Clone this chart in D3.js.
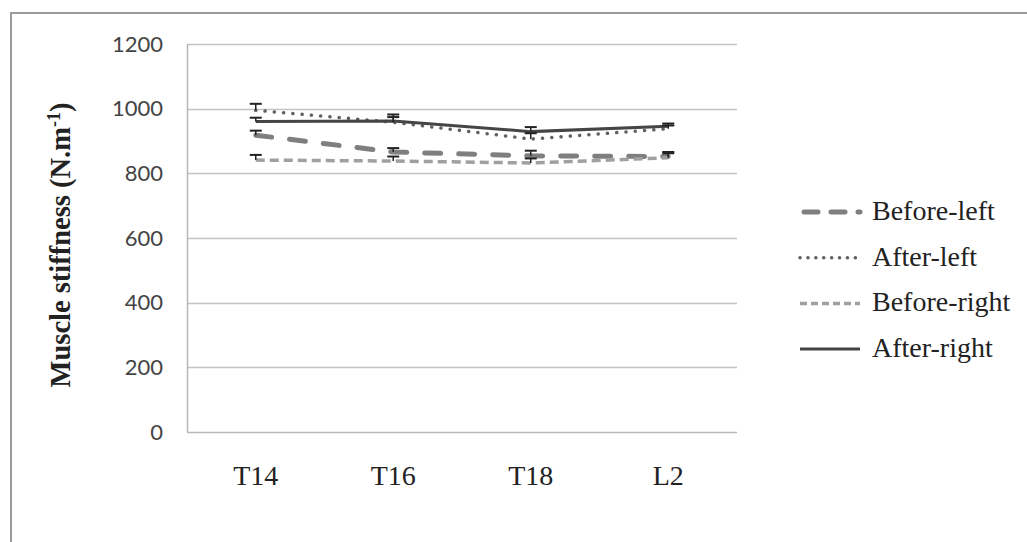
<!DOCTYPE html>
<html>
<head>
<meta charset="utf-8">
<script src="https://cdn.jsdelivr.net/npm/d3@7"></script>
<style>
  body { margin: 0; background: #fff; }
  svg { display: block; }
</style>
</head>
<body>
<div id="chart"></div>
<script>
// data
const categories = ['T14', 'T16', 'T18', 'L2'];
const seriesNames = ['Before-left', 'After-left', 'Before-right', 'After-right'];
const beforeLeft = [918, 866, 854, 852];
const afterLeft = [995, 958, 906, 938];
const beforeRight = [841, 838, 832, 848];
const afterRight = [960, 962, 929, 946];
// upper error bar (SE)
const beforeLeftErr = [14, 12, 16, 10];
const afterLeftErr = [20, 16, 18, 10];
const beforeRightErr = [16, 14, 14, 18];
const afterRightErr = [12, 20, 14, 8];
const yTicks = [0, 200, 400, 600, 800, 1000, 1200];

const width = 1027;
const height = 542;
const margin = { top: 44, left: 187, right: 290, bottom: 110 };
const serif = '"Liberation Serif", "Times New Roman", serif';

const svg = d3.select('#chart').append('svg').attr('width', width).attr('height', height);

// outer chart frame
svg.append('rect')
  .attr('x', 11).attr('y', 13)
  .attr('width', width + 20).attr('height', height + 20)
  .attr('fill', 'none').attr('stroke', '#9a9a9a').attr('stroke-width', 2);

const x = d3.scaleBand().domain(categories).range([margin.left, width - margin.right]);
const y = d3.scaleLinear().domain([0, 1200]).range([height - margin.bottom, margin.top]);

// grid
svg.append('g')
  .selectAll('line')
  .data(yTicks)
  .enter()
  .append('line')
  .attr('x1', margin.left).attr('x2', width - margin.right)
  .attr('y1', (d) => Math.round(y(d)) + 0.5).attr('y2', (d) => Math.round(y(d)) + 0.5)
  .attr('stroke', (d) => (d === 0 ? '#b8b8b8' : '#c4c4c4'))
  .attr('stroke-width', 1.5);

svg.append('line')
  .attr('x1', margin.left + 0.5).attr('x2', margin.left + 0.5)
  .attr('y1', y(1200)).attr('y2', y(0))
  .attr('stroke', '#b8b8b8').attr('stroke-width', 1.5);

// y axis labels
const yAxis = d3.axisLeft(y).tickValues(yTicks).tickFormat(d3.format('d')).tickSize(0).tickPadding(24);
const yg = svg.append('g').attr('transform', `translate(${margin.left},0)`).call(yAxis);
yg.select('.domain').remove();
yg.selectAll('text')
  .attr('font-family', 'Lato, "Open Sans", sans-serif')
  .attr('font-size', 22)
  .attr('fill', '#444');

// x axis labels
const xAxis = d3.axisBottom(x).tickSize(0).tickPadding(33);
const xg = svg.append('g').attr('transform', `translate(0,${y(0)})`).call(xAxis);
xg.select('.domain').remove();
xg.selectAll('text')
  .attr('font-family', serif)
  .attr('font-size', 28)
  .attr('fill', '#222');

// y title
const title = svg.append('text')
  .attr('transform', 'translate(70,245) rotate(-90)')
  .attr('text-anchor', 'middle')
  .attr('font-family', serif)
  .attr('font-weight', 'bold')
  .attr('font-size', 28.5)
  .attr('fill', '#222');
title.append('tspan').text('Muscle stiffness (N.m');
title.append('tspan').attr('dy', -10).attr('font-size', 18).text('-1');
title.append('tspan').attr('dy', 10).text(')');

const series = [
  { name: seriesNames[0], values: beforeLeft, err: beforeLeftErr, color: '#7f7f7f', width: 5, dash: '16,18', cap: 'round' },
  { name: seriesNames[1], values: afterLeft, err: afterLeftErr, color: '#606060', width: 3.5, dash: '0.1,9.2', cap: 'round' },
  { name: seriesNames[2], values: beforeRight, err: beforeRightErr, color: '#a0a0a0', width: 3.5, dash: '9,5', cap: 'butt' },
  { name: seriesNames[3], values: afterRight, err: afterRightErr, color: '#454545', width: 3, dash: null, cap: 'butt' },
];

const cx = (c) => x(c) + x.bandwidth() / 2;
const line = d3.line().x((d) => cx(d.cat)).y((d) => y(d.v));

const gSeries = svg.append('g').attr('class', 'series');
series.forEach((s) => {
  const pts = categories.map((c, i) => ({ cat: c, v: s.values[i], e: s.err[i] }));
  gSeries.append('path')
    .datum(pts)
    .attr('d', line)
    .attr('fill', 'none')
    .attr('stroke', s.color)
    .attr('stroke-width', s.width)
    .attr('stroke-dasharray', s.dash)
    .attr('stroke-linecap', s.cap);
});

// error bars (plus direction only)
series.forEach((s) => {
  const pts = categories.map((c, i) => ({ cat: c, v: s.values[i], e: s.err[i] }));
  const eb = gSeries.append('g');
  eb.selectAll('line.v')
    .data(pts)
    .enter()
    .append('line')
    .attr('x1', (d) => cx(d.cat)).attr('x2', (d) => cx(d.cat))
    .attr('y1', (d) => y(d.v)).attr('y2', (d) => y(d.v + d.e))
    .attr('stroke', '#222').attr('stroke-width', 1.5);
  eb.selectAll('line.c')
    .data(pts)
    .enter()
    .append('line')
    .attr('x1', (d) => cx(d.cat) - 6).attr('x2', (d) => cx(d.cat) + 6)
    .attr('y1', (d) => y(d.v + d.e)).attr('y2', (d) => y(d.v + d.e))
    .attr('stroke', '#222').attr('stroke-width', 2);
});

// legend
const legend = svg.append('g').attr('transform', 'translate(800,212)');
const item = legend.selectAll('g')
  .data(series)
  .enter()
  .append('g')
  .attr('transform', (d, i) => `translate(0,${i * 45.7})`);
item.append('line')
  .attr('x1', (d, i) => (i === 0 ? 4 : 0)).attr('x2', 60)
  .attr('y1', 0).attr('y2', 0)
  .attr('stroke', (d) => d.color)
  .attr('stroke-width', (d) => d.width)
  .attr('stroke-dasharray', (d, i) => (i === 0 ? '14,13' : i === 1 ? '0.1,7.8' : i === 2 ? '7,4' : null))
  .attr('stroke-linecap', (d) => d.cap);
item.append('text')
  .attr('x', 72).attr('y', 8)
  .attr('font-family', serif)
  .attr('font-size', 28)
  .attr('fill', '#222')
  .text((d) => d.name);
</script>
</body>
</html>
